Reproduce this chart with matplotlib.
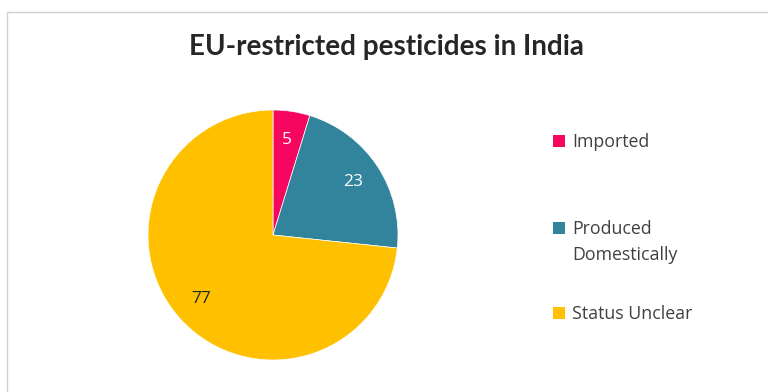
import matplotlib.pyplot as plt
from matplotlib.patches import Rectangle

categories = ["Imported", "Produced\nDomestically", "Status Unclear"]
values = [5, 23, 77]
colors = ["#F7065F", "#31849B", "#FFC000"]
label_colors = ["white", "white", "#262626"]

W, H = 768, 392
fig = plt.figure(figsize=(W / 100, H / 100), dpi=100)
fig.patch.set_facecolor("white")

# chart frame
fig.patches.append(Rectangle((7 / W, -0.01), 1.02, 1 - 12 / H + 0.01,
                             transform=fig.transFigure, facecolor="none",
                             edgecolor="#D0D0D0", linewidth=1.0, zorder=-1))

title_font = ["Lato", "DejaVu Sans"]
body_font = ["Open Sans", "DejaVu Sans"]

fig.text(386 / W, 1 - 47 / H, "EU-restricted pesticides in India", ha="center",
         va="center", fontsize=20, fontweight="bold", color="#262626",
         family=title_font)

# pie axes: centre (273, 235), radius 125 px
cx, cy, r = 273, 235, 125
ax = fig.add_axes([(cx - r) / W, 1 - (cy + r) / H, 2 * r / W, 2 * r / H])
wedges, texts, autotexts = ax.pie(
    values, colors=colors, startangle=90, counterclock=False,
    autopct=lambda p: f"{p * sum(values) / 100:.0f}", pctdistance=0.77,
    wedgeprops=dict(linewidth=0.5, edgecolor="white"), radius=1.0,
    textprops=dict(fontsize=12.5, family=body_font))
for t, c in zip(autotexts, label_colors):
    t.set_color(c)
ax.set_xlim(-1, 1)
ax.set_ylim(-1, 1)
ax.set_aspect("equal")

# legend entries
legend_y = [141, 228, 313]
for lab, col, y in zip(categories, colors, legend_y):
    fig.patches.append(Rectangle((553 / W, 1 - (y + 6) / H), 12 / W, 12 / H,
                                 transform=fig.transFigure, facecolor=col,
                                 edgecolor="none"))
    fig.text(572 / W, 1 - (y - 8) / H, lab, ha="left", va="top", fontsize=12.8,
             color="#404040", family=body_font, linespacing=1.55)

fig.savefig("out.png", dpi=100)
